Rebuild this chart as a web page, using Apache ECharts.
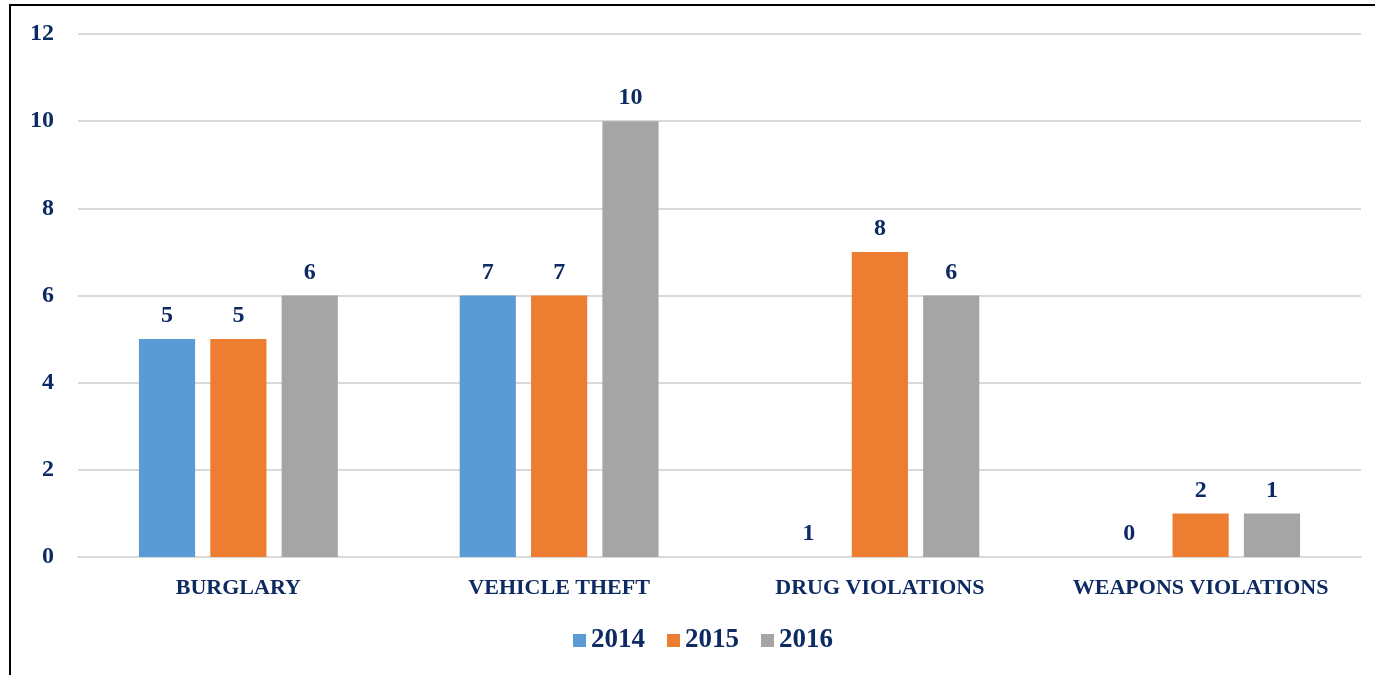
<!DOCTYPE html>
<html>
<head>
<meta charset="utf-8">
<script src="https://cdn.jsdelivr.net/npm/echarts@6/dist/echarts.min.js"></script>
<style>
  html, body { margin: 0; padding: 0; background: #fff; }
  #frame {
    position: absolute; left: 9px; top: 4px; width: 1400px; height: 700px;
    border-top: 2px solid #000; border-left: 2px solid #000;
  }
  #chart { position: absolute; left: 0; top: 0; width: 1375px; height: 675px; }
</style>
</head>
<body>
<div id="frame"></div>
<div id="chart"></div>
<script>
var categories = ["BURGLARY", "VEHICLE THEFT", "DRUG VIOLATIONS", "WEAPONS VIOLATIONS"];
var years = ["2014", "2015", "2016"];
// bar heights as drawn
var bars2014 = [5, 6, 0, 0];
var bars2015 = [5, 6, 7, 1];
var bars2016 = [6, 10, 6, 1];
// data labels as printed (they don't always match the bars)
var labels2014 = ["5", "7", "1", "0"];
var labels2015 = ["5", "7", "8", "2"];
var labels2016 = ["6", "10", "6", "1"];
var colors = ["#5B9BD5", "#ED7D31", "#A5A5A5"];

var textColor = "#0d2a63";
var fontFam = "'Liberation Serif', 'DejaVu Serif', serif";

function makeSeries(name, vals, lbls, color) {
  return {
    name: name,
    type: "bar",
    barGap: "27%",
    barCategoryGap: "38%",
    itemStyle: { color: color },
    data: vals,
    label: {
      show: true,
      position: "top",
      distance: 11,
      color: textColor,
      fontFamily: fontFam,
      fontWeight: "bold",
      fontSize: 24,
      formatter: function (p) { return lbls[p.dataIndex]; }
    }
  };
}

var chart = echarts.init(document.getElementById("chart"));
chart.setOption({
  animation: false,
  grid: { left: 78, right: 14, top: 34, bottom: 118 },
  legend: {
    bottom: 16,
    left: 568,
    itemWidth: 13,
    itemHeight: 13,
    itemGap: 22,
    icon: "rect",
    textStyle: { color: textColor, fontFamily: fontFam, fontWeight: "bold", fontSize: 27 },
    data: years
  },
  xAxis: {
    type: "category",
    data: categories,
    axisLine: { lineStyle: { color: "#d9d9d9", width: 2 } },
    axisTick: { show: false },
    axisLabel: {
      interval: 0, hideOverlap: false,
      color: textColor, fontFamily: fontFam, fontWeight: "bold", fontSize: 22, margin: 20
    }
  },
  yAxis: {
    type: "value",
    min: 0, max: 12, interval: 2,
    axisLine: { show: false },
    axisTick: { show: false },
    splitLine: { lineStyle: { color: "#d9d9d9", width: 2 } },
    axisLabel: { color: textColor, fontFamily: fontFam, fontWeight: "bold", fontSize: 24, margin: 24 }
  },
  series: [
    makeSeries(years[0], bars2014, labels2014, colors[0]),
    makeSeries(years[1], bars2015, labels2015, colors[1]),
    makeSeries(years[2], bars2016, labels2016, colors[2])
  ]
});
</script>
</body>
</html>
